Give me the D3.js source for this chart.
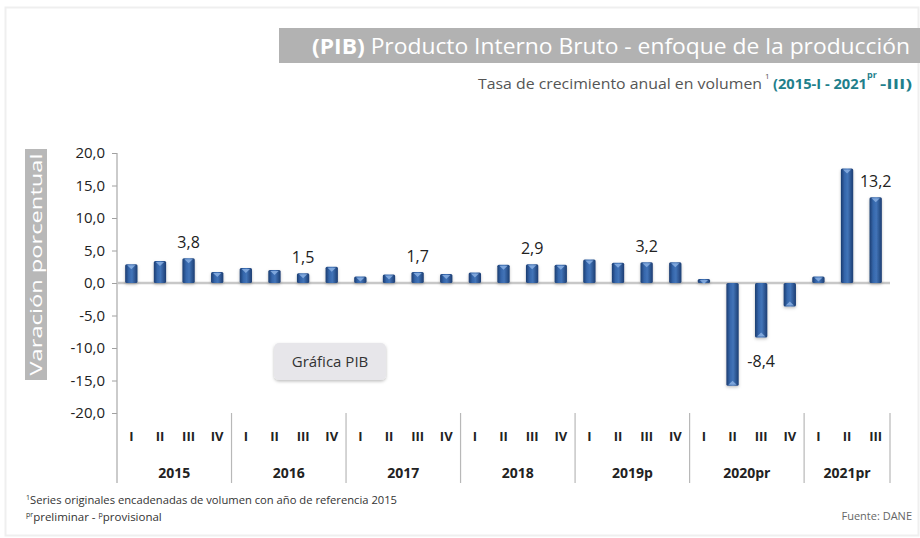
<!DOCTYPE html>
<html>
<head>
<meta charset="utf-8">
<script src="https://cdn.jsdelivr.net/npm/d3@7"></script>
<style>
  body { margin: 0; background: #fff; }
  svg { display: block; font-family: "Open Sans", sans-serif; }
</style>
</head>
<body>
<div id="container"></div>
<script>
// quarters 2015-I .. 2021pr-III
const quarters = ["I", "II", "III", "IV"];
const years = ["2015", "2016", "2017", "2018", "2019p", "2020pr", "2021pr"];
const values = [2.9, 3.4, 3.8, 1.7,  2.3, 2.0, 1.5, 2.5,  1.0, 1.3, 1.7, 1.4,
                1.6, 2.8, 2.9, 2.8,  3.6, 3.1, 3.2, 3.2,  0.6, -15.8, -8.4, -3.6,
                1.0, 17.6, 13.2];
const labelled = [2, 6, 10, 14, 18, 22, 26];
const yTicks = [20, 15, 10, 5, 0, -5, -10, -15, -20];

const W = 920, H = 538;
const fmt = v => d3.format(".1f")(v).replace(".", ",").replace("\u2212", "-");

const svg = d3.select("#container").append("svg")
    .attr("width", W)
    .attr("height", H);

const defs = svg.append("defs");
const grad = defs.append("linearGradient").attr("id", "barGrad")
    .attr("x1", "0%").attr("x2", "100%").attr("y1", "0%").attr("y2", "0%");
[["0%", "#1b3c70"], ["30%", "#3566ab"], ["55%", "#4274b8"], ["100%", "#1c3d72"]].forEach(d => {
    grad.append("stop").attr("offset", d[0]).attr("stop-color", d[1]);
});
const sh = defs.append("filter").attr("id", "shadow")
    .attr("x", "-20%").attr("y", "-20%").attr("width", "140%").attr("height", "160%");
sh.append("feDropShadow").attr("dx", 0).attr("dy", 1.5).attr("stdDeviation", 1.5)
    .attr("flood-color", "#000").attr("flood-opacity", 0.25);

// faint frame
svg.append("rect")
    .attr("x", 5.5).attr("y", 7.5).attr("width", 913).attr("height", 528)
    .attr("fill", "none").attr("stroke", "#efefef").attr("stroke-width", 2);

// title band
svg.append("rect")
    .attr("x", 279).attr("y", 28).attr("width", 641).attr("height", 35)
    .attr("fill", "#b2b2b2");

const title = svg.append("text")
    .attr("x", 312).attr("y", 54)
    .attr("fill", "#fff")
    .attr("font-size", 22)
    .attr("textLength", 598)
    .attr("lengthAdjust", "spacingAndGlyphs");
title.append("tspan").attr("font-weight", "bold").text("(PIB)");
title.append("tspan").text(" Producto Interno Bruto  - enfoque de la producción");

// subtitle
const sub = svg.append("g");
sub.append("text")
    .attr("x", 478).attr("y", 89)
    .attr("fill", "#555").attr("font-size", 14)
    .attr("textLength", 284).attr("lengthAdjust", "spacingAndGlyphs")
    .text("Tasa de crecimiento anual en volumen");
sub.append("text")
    .attr("x", 765).attr("y", 79)
    .attr("fill", "#555").attr("font-size", 8)
    .text("1");
sub.append("text")
    .attr("x", 773).attr("y", 89)
    .attr("fill", "#1f7f8c").attr("font-size", 14).attr("font-weight", "bold")
    .attr("textLength", 94).attr("lengthAdjust", "spacingAndGlyphs")
    .text("(2015-I - 2021");
sub.append("text")
    .attr("x", 867).attr("y", 78)
    .attr("fill", "#1f7f8c").attr("font-size", 9).attr("font-weight", "bold")
    .text("pr");
sub.append("text")
    .attr("x", 880).attr("y", 89)
    .attr("fill", "#1f7f8c").attr("font-size", 14).attr("font-weight", "bold")
    .attr("textLength", 32).attr("lengthAdjust", "spacingAndGlyphs")
    .text("-III)");

// scales
const x = d3.scaleBand()
    .domain(d3.range(values.length))
    .range([117, 890])
    .paddingInner(0.57)
    .paddingOuter(0.285);

const step = (890 - 117) / values.length;

const y = d3.scaleLinear()
    .domain([-20, 20])
    .range([413, 153]);

// y label band
svg.append("rect")
    .attr("x", 25).attr("y", 149).attr("width", 22).attr("height", 231)
    .attr("fill", "#b8b8b8");
svg.append("text")
    .attr("transform", "translate(42,264.5) rotate(-90)")
    .attr("text-anchor", "middle")
    .attr("fill", "#fff")
    .attr("font-size", 17)
    .attr("textLength", 222).attr("lengthAdjust", "spacingAndGlyphs")
    .text("Varación porcentual");

// y axis
const yAxis = svg.append("g")
    .attr("transform", "translate(117,0)")
    .call(d3.axisLeft(y).tickValues(yTicks).tickSize(5).tickSizeOuter(0).tickFormat(fmt));
yAxis.select(".domain").remove();
yAxis.selectAll(".tick line").attr("stroke", "#a0a0a0");
yAxis.selectAll(".tick text")
    .attr("x", -12)
    .attr("fill", "#222")
    .attr("font-size", 15)
    .attr("font-family", "'Open Sans', sans-serif");

svg.append("line")
    .attr("x1", 117).attr("x2", 117)
    .attr("y1", y(20)).attr("y2", 483)
    .attr("stroke", "#a8a8a8").attr("stroke-width", 1.2);

// year separators
const seps = d3.range(years.length + 1).map(i => Math.min(117 + i * 4 * step, 890));
svg.selectAll(".sep").data(seps.slice(1)).join("line")
    .attr("class", "sep")
    .attr("x1", d => d).attr("x2", d => d)
    .attr("y1", 413).attr("y2", 483)
    .attr("stroke", "#b8b8b8").attr("stroke-width", 1.2);

// zero line
svg.append("line")
    .attr("x1", 117).attr("x2", 890)
    .attr("y1", y(0)).attr("y2", y(0))
    .attr("stroke", "#c8c8c8").attr("stroke-width", 2.5);

// bars
const bars = svg.append("g").attr("filter", "url(#shadow)");
bars.selectAll("rect.bar").data(values).join("rect")
    .attr("class", "bar")
    .attr("x", (d, i) => x(i))
    .attr("width", x.bandwidth())
    .attr("y", d => y(Math.max(0, d)))
    .attr("height", d => Math.abs(y(d) - y(0)))
    .attr("rx", 1.5)
    .attr("fill", "url(#barGrad)");

// light cap on the outer end of each bar
bars.selectAll("path.cap").data(values).join("path")
    .attr("class", "cap")
    .attr("d", (d, i) => {
        const x0 = x(i) + 2, x1 = x(i) + x.bandwidth() - 2, xm = x(i) + x.bandwidth() / 2;
        const y0 = d >= 0 ? y(d) + 1 : y(d) - 1;
        const dy = d >= 0 ? 4 : -4;
        return `M${x0},${y0}L${x1},${y0}L${xm},${y0 + dy}Z`;
    })
    .attr("fill", "#8fb4e6")
    .attr("opacity", 0.8);

// value labels
svg.selectAll("text.val").data(labelled).join("text")
    .attr("class", "val")
    .attr("x", i => x(i) + x.bandwidth() / 2)
    .attr("y", i => values[i] >= 0 ? y(values[i]) - 10 : y(values[i]) + 29)
    .attr("text-anchor", "middle")
    .attr("fill", "#222")
    .attr("font-size", 16)
    .text(i => fmt(values[i]));

// quarter labels
svg.selectAll("text.q").data(values).join("text")
    .attr("class", "q")
    .attr("x", (d, i) => x(i) + x.bandwidth() / 2)
    .attr("y", 441)
    .attr("text-anchor", "middle")
    .attr("fill", "#222")
    .attr("font-size", 13)
    .attr("font-weight", "bold")
    .text((d, i) => quarters[i % 4]);

// year labels
svg.selectAll("text.yr").data(years).join("text")
    .attr("class", "yr")
    .attr("x", (d, i) => (seps[i] + seps[i + 1]) / 2)
    .attr("y", 478)
    .attr("text-anchor", "middle")
    .attr("fill", "#222")
    .attr("font-size", 14)
    .attr("font-weight", "bold")
    .text(d => d);

// "Gráfica PIB" tag
svg.append("rect")
    .attr("x", 274).attr("y", 343).attr("width", 112).attr("height", 37)
    .attr("rx", 5)
    .attr("fill", "#e7e6ea")
    .attr("filter", "url(#shadow)");
svg.append("text")
    .attr("x", 330).attr("y", 367)
    .attr("text-anchor", "middle")
    .attr("fill", "#333")
    .attr("font-size", 15)
    .text("Gráfica PIB");

// footnotes
const fn = svg.append("g").attr("fill", "#333").attr("font-size", 11.5);
const f1 = fn.append("text").attr("x", 26).attr("y", 504);
f1.append("tspan").attr("font-size", 7).attr("dy", -4).text("1");
f1.append("tspan").attr("dy", 4)
    .attr("textLength", 367).attr("lengthAdjust", "spacingAndGlyphs")
    .text("Series originales encadenadas de volumen con año de referencia 2015");
const f2 = fn.append("text").attr("x", 26).attr("y", 521);
f2.append("tspan").attr("font-size", 7).attr("dy", -4).text("pr");
f2.append("tspan").attr("dy", 4).text("preliminar - ");
f2.append("tspan").attr("font-size", 7).attr("dy", -4).text("p");
f2.append("tspan").attr("dy", 4).text("provisional");

svg.append("text")
    .attr("x", 912).attr("y", 520)
    .attr("text-anchor", "end")
    .attr("fill", "#666")
    .attr("font-size", 11)
    .text("Fuente: DANE");
</script>
</body>
</html>
